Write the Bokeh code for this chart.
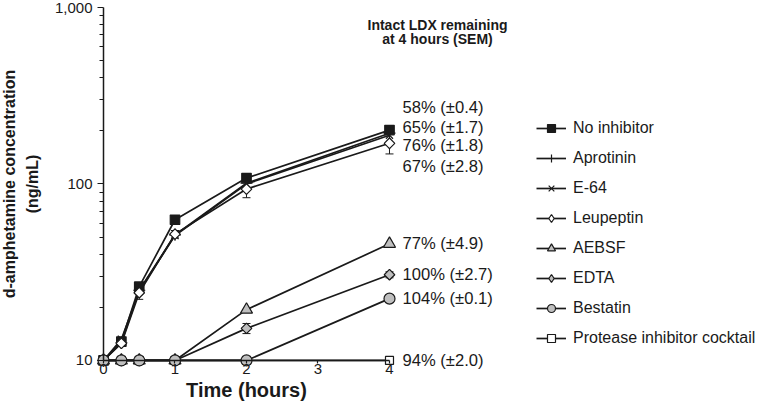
import math
from bokeh.plotting import figure
from bokeh.models import (ColumnDataSource, FixedTicker, NumeralTickFormatter, Legend,
                          LegendItem, Label, Whisker, TeeHead)
from bokeh.core.properties import value
from bokeh.embed import file_html
from bokeh.resources import INLINE

# ---- data ----
times = [0, 0.25, 0.5, 1, 2, 4]
no_inhibitor = [10, 12.8, 26.2, 62.7, 108, 202]
aprotinin = [10, 12.6, 25.0, 51.5, 101, 194]
e64 = [10, 13.2, 24.8, 51.0, 100, 189]
leupeptin = [10, 12.5, 24.2, 52.0, 93.6, 170]
leupeptin_sem = [0, 0.3, 2.0, 2.5, 10, 22]
aebsf = [10, 10, 10, 10, 19.4, 45.8]
edta = [10, 10, 10, 10, 15.2, 30.6]
edta_sem = [0, 0, 0, 0, 1.0, 1.2]
bestatin = [10, 10, 10, 10, 10, 22.4]
cocktail = [10, 10, 10, 10, 10, 10]

series_names = ["No inhibitor", "Aprotinin", "E-64", "Leupeptin", "AEBSF", "EDTA",
                "Bestatin", "Protease inhibitor cocktail"]
series_values = [no_inhibitor, aprotinin, e64, leupeptin, aebsf, edta, bestatin, cocktail]

remaining_labels = ["58% (\u00b10.4)", "65% (\u00b11.7)", "76% (\u00b11.8)", "67% (\u00b12.8)",
                    "77% (\u00b14.9)", "100% (\u00b12.7)", "104% (\u00b10.1)", "94% (\u00b12.0)"]
# vertical placement of the labels (ng/mL)
remaining_label_y = [270.6, 208.6, 166, 125.6, 45.8, 30.6, 22.4, 10]

y_ticks = [10, 100, 1000]
y_minor = [20, 30, 40, 50, 60, 70, 80, 90, 200, 300, 400, 500, 600, 700, 800, 900]
x_ticks = [0, 1, 2, 3, 4]

# ---- styles ----
FONT = "Liberation Sans"
INK = "#1a1a1a"
GRAY = "#bfbfbf"
marker_styles = [
    dict(marker="square", size=9.5, angle=0, fill_color=INK),
    dict(marker="cross", size=12, angle=0, fill_color=None),
    dict(marker="x", size=10, angle=0, fill_color=None),
    dict(marker="square", size=7.5, angle=math.pi / 4, fill_color="white"),
    dict(marker="triangle", size=12, angle=0, fill_color=GRAY),
    dict(marker="square", size=7.5, angle=math.pi / 4, fill_color=GRAY),
    dict(marker="circle", size=11, angle=0, fill_color=GRAY),
    dict(marker="square", size=8, angle=0, fill_color="white"),
]
render_order = [0, 1, 2, 3, 7, 4, 5, 6]

W, H = 760, 404
p = figure(width=W, height=H, y_axis_type="log",
           x_range=(-1.4406, 9.189), y_range=(5.63, 1095.6),
           output_backend="svg", toolbar_location=None,
           min_border_left=0, min_border_right=0, min_border_top=0, min_border_bottom=0)
p.outline_line_color = None
p.grid.visible = False
p.background_fill_color = "white"

# axes (drawn at x = 0 h and y = 10 ng/mL)
p.yaxis.ticker = FixedTicker(ticks=y_ticks, minor_ticks=y_minor)
p.yaxis.formatter = NumeralTickFormatter(format="0,0")
p.xaxis.ticker = FixedTicker(ticks=x_ticks)
p.xaxis.bounds = (0, 4)
p.yaxis.bounds = (10, 1000)
p.xaxis.fixed_location = 10
p.yaxis.fixed_location = 0
for ax in (p.xaxis, p.yaxis):
    ax.axis_line_color = INK
    ax.axis_line_width = 1.5
    ax.major_tick_line_color = INK
    ax.major_tick_line_width = 1.2
    ax.minor_tick_line_color = INK
    ax.major_tick_in = 0
    ax.minor_tick_in = 0
    ax.major_label_text_font = FONT
    ax.major_label_text_font_size = "15px"
    ax.major_label_text_color = INK
    ax.axis_label_text_font = FONT
    ax.axis_label_text_font_style = "bold"
    ax.axis_label_text_color = INK
p.yaxis.major_tick_out = 6
p.yaxis.minor_tick_out = 4
p.yaxis.major_label_standoff = 5
p.xaxis.major_tick_out = 3
p.xaxis.minor_tick_line_color = None
p.xaxis.major_label_standoff = 1
p.xaxis.axis_label = "Time (hours)"
p.xaxis.axis_label_text_font_size = "20px"
p.xaxis.axis_label_standoff = 1
p.yaxis.axis_label = "d-amphetamine concentration\n(ng/mL)"
p.yaxis.axis_label_text_font_size = "16px"
p.yaxis.axis_label_text_line_height = 1.35
p.yaxis.axis_label_standoff = 11

# lines
line_renderers = []
for vals in series_values:
    src = ColumnDataSource(dict(t=times, v=vals))
    line_renderers.append(p.line("t", "v", source=src, line_color=INK, line_width=1.7))

# error bars
for vals, sem in ((leupeptin, leupeptin_sem), (edta, edta_sem)):
    esrc = ColumnDataSource(dict(t=times,
                                 lo=[v - s for v, s in zip(vals, sem)],
                                 hi=[v + s for v, s in zip(vals, sem)]))
    w = Whisker(source=esrc, base="t", lower="lo", upper="hi", dimension="height",
                line_color=INK, line_width=1,
                lower_head=TeeHead(size=8, line_color=INK, line_width=1),
                upper_head=TeeHead(size=8, line_color=INK, line_width=1))
    p.add_layout(w)

# diamond glyphs used for the legend (drawn underneath the rotated squares)
legend_glyph = {}
for i in (3, 5):
    src = ColumnDataSource(dict(t=times, v=series_values[i]))
    legend_glyph[i] = p.scatter("t", "v", source=src, marker="diamond", size=10,
                                fill_color=marker_styles[i]["fill_color"], line_color=INK,
                                line_width=1.2)

# markers
scatter_renderers = [None] * len(series_values)
for i in render_order:
    src = ColumnDataSource(dict(t=times, v=series_values[i]))
    st = marker_styles[i]
    scatter_renderers[i] = p.scatter("t", "v", source=src, marker=st["marker"], size=st["size"],
                                     angle=st["angle"], fill_color=st["fill_color"],
                                     line_color=INK, line_width=1.2)

# remaining-LDX labels
lsrc = ColumnDataSource(dict(t=[4] * len(remaining_labels), v=remaining_label_y, txt=remaining_labels))
p.text("t", "v", text="txt", source=lsrc, x_offset=13, text_align="left", text_baseline="middle",
       text_font=value(FONT), text_font_size="16.6px", text_color=INK)

# legend
items = [LegendItem(label=n, renderers=[line_renderers[i], legend_glyph.get(i, scatter_renderers[i])])
         for i, n in enumerate(series_names)]
legend = Legend(items=items, location=(536, 56), orientation="vertical",
                glyph_width=30, glyph_height=20, label_height=20, spacing=10,
                label_standoff=7, padding=0, margin=0,
                border_line_color=None, background_fill_alpha=0,
                label_text_font=FONT, label_text_font_size="16px", label_text_color=INK)
p.add_layout(legend)

# title block
common = dict(x_units="screen", y_units="screen", text_font=FONT, text_color=INK,
              text_font_style="bold", text_font_size="14px", text_align="center")
p.add_layout(Label(x=437, y=372, text="Intact LDX remaining", **common))
p.add_layout(Label(x=437, y=357.5, text="at 4 hours (SEM)", **common))

open("out.html", "w").write(file_html(p, INLINE))
